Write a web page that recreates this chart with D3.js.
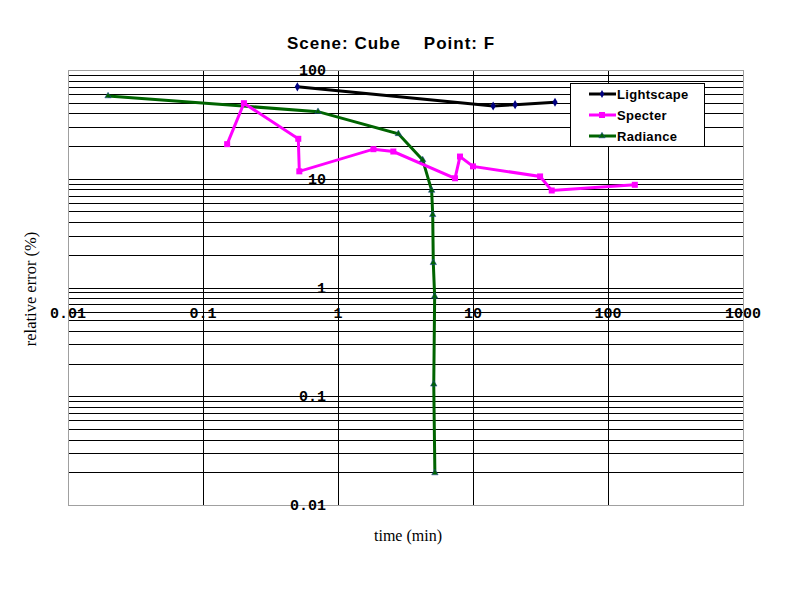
<!DOCTYPE html>
<html><head><meta charset="utf-8">
<script src="https://cdn.jsdelivr.net/npm/d3@7"></script>
<style>body{margin:0;background:#fff}</style>
</head><body><svg id="c" width="799" height="600"></svg>
<script>
const xTicks = [0.01, 0.1, 1, 10, 100, 1000];
const xTickLabels = ["0.01", "0.1", "1", "10", "100", "1000"];
const yTicks = [0.01, 0.1, 1, 10, 100];
const yTickLabels = ["0.01", "0.1", "1", "10", "100"];

const lightscapeX = [0.5, 14.1, 20.5, 40.5];
const lightscapeY = [70, 46.7, 48.0, 50.5];
const specterX = [0.151, 0.201, 0.508, 0.517, 1.83, 2.57, 7.36, 8.01, 10.0, 31.4, 38.3, 158];
const specterY = [20.8, 49.5, 23.3, 11.7, 18.7, 17.8, 10.1, 16.0, 13.0, 10.5, 7.8, 8.8];
const radianceX = [0.0198, 0.711, 2.8, 4.24, 4.94, 5.03, 5.08, 5.2, 5.12, 5.22];
const radianceY = [57.7, 41.4, 25.9, 14.9, 7.81, 4.67, 1.69, 0.83, 0.129, 0.0197];

const seriesNames = ["Lightscape", "Specter", "Radiance"];

const svg = d3.select("#c");
const x = d3.scaleLog().domain([0.01, 1000]).range([68, 743]);
const y = d3.scaleLog().domain([0.01, 100]).range([505, 70]);

// horizontal minor gridlines
const hLines = [];
for (let e = -2; e < 2; e++) for (let m = 1; m <= 9; m++) hLines.push(m * Math.pow(10, e));
svg.append("g").selectAll("line").data(hLines.filter(v => v > 0.0101 && v < 99.9)).join("line")
  .attr("x1", x(0.01)).attr("x2", x(1000))
  .attr("y1", d => Math.round(y(d)) + 0.5).attr("y2", d => Math.round(y(d)) + 0.5)
  .attr("stroke", "#000").attr("stroke-width", 1);
// vertical decade gridlines
svg.append("g").selectAll("line").data([0.1, 1, 10, 100]).join("line")
  .attr("x1", d => Math.round(x(d)) + 0.5).attr("x2", d => Math.round(x(d)) + 0.5)
  .attr("y1", y(100)).attr("y2", y(0.01))
  .attr("stroke", "#000").attr("stroke-width", 1);
// plot border
svg.append("rect").attr("x", x(0.01) + 0.5).attr("y", y(100) + 0.5)
  .attr("width", x(1000) - x(0.01)).attr("height", y(0.01) - y(100))
  .attr("fill", "none").attr("stroke", "#a0a0a0").attr("stroke-width", 1);

// tick labels
const tickFont = "'Liberation Mono', 'Courier New', monospace";
svg.append("g").selectAll("text").data(xTicks).join("text")
  .attr("x", d => x(d)).attr("y", 318)
  .attr("text-anchor", "middle").attr("font-family", tickFont).attr("font-weight", "bold")
  .attr("font-size", 15).text((d, i) => xTickLabels[i]);
svg.append("g").selectAll("text").data(yTicks).join("text")
  .attr("x", 326).attr("y", d => y(d) + 5)
  .attr("text-anchor", "end").attr("font-family", tickFont).attr("font-weight", "bold")
  .attr("font-size", 15).text((d, i) => yTickLabels[i]);

// titles
svg.append("text").attr("x", 391).attr("y", 49).attr("text-anchor", "middle")
  .attr("font-family", "'Liberation Sans', Arial, sans-serif").attr("font-weight", "bold")
  .attr("font-size", 17).attr("letter-spacing", 1).attr("xml:space", "preserve").text("Scene: Cube    Point: F");
svg.append("text").attr("x", 408).attr("y", 541).attr("text-anchor", "middle")
  .attr("font-family", "'Liberation Serif', 'Times New Roman', serif").attr("font-size", 16)
  .text("time (min)");
svg.append("text").attr("transform", "translate(36,289) rotate(-90)").attr("text-anchor", "middle")
  .attr("font-family", "'Liberation Serif', 'Times New Roman', serif").attr("font-size", 16.5)
  .text("relative error (%)");

const line = d3.line().x(d => x(d[0])).y(d => y(d[1]));
const zip = (a, b) => a.map((v, i) => [v, b[i]]);
const ls = zip(lightscapeX, lightscapeY), sp = zip(specterX, specterY), ra = zip(radianceX, radianceY);

svg.append("path").datum(ra).attr("d", line).attr("fill", "none").attr("stroke", "#006400").attr("stroke-width", 3);
svg.append("path").datum(sp).attr("d", line).attr("fill", "none").attr("stroke", "#ff00ff").attr("stroke-width", 3);
svg.append("path").datum(ls).attr("d", line).attr("fill", "none").attr("stroke", "#000").attr("stroke-width", 3);

// markers
svg.append("g").selectAll("path").data(ra).join("path")
  .attr("d", d3.symbol(d3.symbolTriangle, 18)())
  .attr("transform", d => `translate(${x(d[0])},${y(d[1])})`).attr("fill", "#006400").attr("stroke", "#2040a0").attr("stroke-width", 0.5);
svg.append("g").selectAll("rect").data(sp).join("rect")
  .attr("x", d => x(d[0]) - 3).attr("y", d => y(d[1]) - 3).attr("width", 6).attr("height", 6)
  .attr("fill", "#ff00ff");
svg.append("g").selectAll("path").data(ls).join("path")
  .attr("d", d3.symbol(d3.symbolDiamond, 24)())
  .attr("transform", d => `translate(${x(d[0])},${y(d[1])})`).attr("fill", "#000080");

// legend
const lg = svg.append("g");
lg.append("rect").attr("x", 570.5).attr("y", 83.5).attr("width", 134).attr("height", 63)
  .attr("fill", "#fff").attr("stroke", "#000").attr("stroke-width", 1);
const legColors = ["#000", "#ff00ff", "#006400"];
const rowY = [94, 115, 136];
seriesNames.forEach((n, i) => {
  lg.append("line").attr("x1", 589).attr("x2", 616).attr("y1", rowY[i]).attr("y2", rowY[i])
    .attr("stroke", legColors[i]).attr("stroke-width", 3);
  if (i === 0) lg.append("path").attr("d", d3.symbol(d3.symbolDiamond, 18)()).attr("transform", `translate(602,${rowY[i]})`).attr("fill", "#000080");
  if (i === 1) lg.append("rect").attr("x", 599).attr("y", rowY[i] - 3).attr("width", 6).attr("height", 6).attr("fill", "#ff00ff");
  if (i === 2) lg.append("path").attr("d", d3.symbol(d3.symbolTriangle, 18)()).attr("transform", `translate(602,${rowY[i]})`).attr("fill", "#006400").attr("stroke", "#2040a0").attr("stroke-width", 0.5);
  lg.append("text").attr("x", 617).attr("y", rowY[i] + 5)
    .attr("font-family", "'Liberation Sans', Arial, sans-serif").attr("font-weight", "bold").attr("font-size", 13)
    .attr("letter-spacing", 0.3).text(n);
});
</script></body></html>
